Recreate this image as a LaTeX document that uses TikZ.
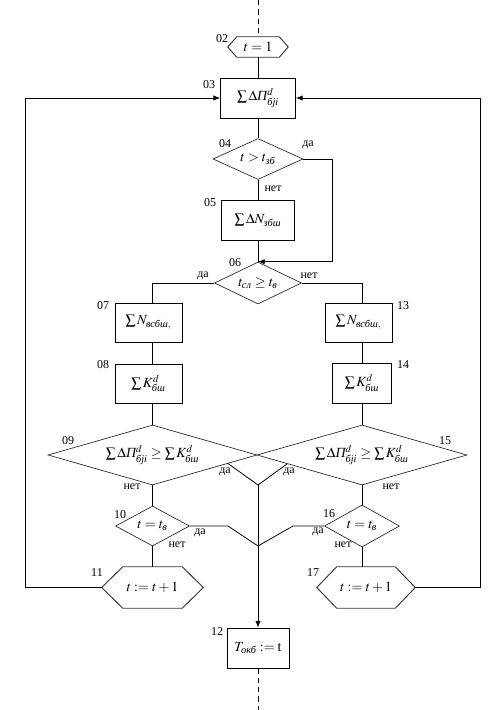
\documentclass[tikz,border=0pt]{standalone}
\usepackage{amsmath}
\usepackage{mathptmx}
\usepackage{fontspec}
\setmainfont{Liberation Serif}
\usetikzlibrary{arrows.meta,positioning,calc,shapes.geometric}
\tikzset{
  >={Latex[length=5pt,width=4pt]},
  every node/.style={font=\fontsize{10.5}{12}\selectfont},
  line/.style={draw=black,line width=0.6pt},
  arrow/.style={line,->},
  flow/.style={line,dash pattern=on 4pt off 3pt},
  blk/.style={draw=black,line width=0.6pt,rectangle,inner sep=0pt,align=center},
  cond/.style={draw=black!85,line width=0.5pt,diamond,inner sep=0pt,aspect=2},
  wide/.style={cond,aspect=3.5},
  hexn/.style={inner sep=0pt,align=center},
  hexline/.style={draw=black!80,line width=0.7pt},
  num/.style={font=\small,inner sep=0pt},
  ans/.style={font=\small,inner sep=0pt},
}
\newcommand{\hexframe}[2]{\draw[hexline] (#1.west) -- ([xshift=#2]#1.north west) -- ([xshift=-#2]#1.north east) -- (#1.east) -- ([xshift=-#2]#1.south east) -- ([xshift=#2]#1.south west) -- cycle;}
\newcommand{\dPi}{\sum\Delta\textit{П}^{d}_{\textit{бji}}}
\newcommand{\sK}{\sum K^{d}_{\textit{бш}}}

\begin{document}
\begin{tikzpicture}[x=0.75pt,y=-0.75pt]
  \useasboundingbox (0,0) rectangle (497,710);
  \node[hexn,minimum width=45pt,minimum height=15pt] (h02) at (258,47) {$t=1$};
  \hexframe{h02}{6.75pt}
  \node[blk,minimum width=56.25pt,minimum height=30pt] (b03) at (258,98) {$\dPi$};
  \node[cond,minimum width=67.5pt,minimum height=30.75pt] (d04) at (258,159) {$t>t_{\textit{зб}}$};
  \node[blk,minimum width=54.75pt,minimum height=30pt] (b05) at (258,220) {$\sum\Delta N_{\textit{збш}}$};
  \node[cond,minimum width=65.25pt,minimum height=31.5pt] (d06) at (258,283) {$t_{\textit{сл}}\geq t_{\textit{в}}$};
  \node[blk,minimum width=50.25pt,minimum height=29.25pt] (b07) at (148.5,322.5) {$\sum N_{\textit{всбш},}$};
  \node[blk,minimum width=50.25pt,minimum height=29.25pt] (b08) at (148.5,383.5) {$\sK$};
  \node[blk,minimum width=50.25pt,minimum height=29.25pt] (b13) at (358.5,322.5) {$\sum N_{\textit{всбш},}$};
  \node[blk,minimum width=44.25pt,minimum height=30pt] (b14) at (362,383) {$\sK$};
  \node[wide,minimum width=156.75pt,minimum height=45pt] (d09) at (152.5,455) {$\dPi\geq\sK$};
  \node[wide,minimum width=157.5pt,minimum height=45pt] (d15) at (362,455) {$\dPi\geq\sK$};
  \node[cond,minimum width=55.5pt,minimum height=30pt] (d10) at (152.5,526) {$t=t_{\textit{в}}$};
  \node[cond,minimum width=56.25pt,minimum height=31.5pt] (d16) at (362,526) {$t=t_{\textit{в}}$};
  \node[hexn,minimum width=75.75pt,minimum height=30.75pt] (h11) at (152.5,587.5) {$t:=t+1$};
  \hexframe{h11}{15.75pt}
  \node[hexn,minimum width=73.5pt,minimum height=30.75pt] (h17) at (366,587.5) {$t:=t+1$};
  \hexframe{h17}{15pt}
  \node[blk,minimum width=46.5pt,minimum height=30pt] (b12) at (258,648) {$T_{\textit{окб}}:=\mathrm{t}$};

  \node[num] (n02) at (222,39) {02};
  \node[num] (n03) at (209,85) {03};
  \node[num] (n04) at (225,144) {04};
  \node[num] (n05) at (210,203) {05};
  \node[num] (n06) at (235,263) {06};
  \node[num] (n07) at (103,306) {07};
  \node[num] (n08) at (103,365) {08};
  \node[num] (n09) at (68,441) {09};
  \node[num] (n10) at (120,515) {10};
  \node[num] (n11) at (97,573) {11};
  \node[num] (n12) at (217,632) {12};
  \node[num] (n13) at (403,306) {13};
  \node[num] (n14) at (403,365) {14};
  \node[num] (n15) at (445,441) {15};
  \node[num] (n16) at (329,514) {16};
  \node[num] (n17) at (313,573) {17};

  \node[ans] (y04) at (308,145) {да};
  \node[ans] (no04) at (273,189) {нет};
  \node[ans] (y06) at (203,276) {да};
  \node[ans] (no06) at (309,276) {нет};
  \node[ans] (y09) at (225,472) {да};
  \node[ans] (no09) at (132,487) {нет};
  \node[ans] (y15) at (289,472) {да};
  \node[ans] (no15) at (391,487) {нет};
  \node[ans] (y10) at (200,533) {да};
  \node[ans] (no10) at (177,545) {нет};
  \node[ans] (y16) at (318,532) {да};
  \node[ans] (no16) at (343,545) {нет};

  \coordinate (top) at (258,0);
  \coordinate (bot) at (258,710);
  \coordinate (yes04) at (332,159);
  \coordinate (loopL) at (25,587.5);
  \coordinate (loopR) at (480,587.5);
  \coordinate (m1) at (258,485);
  \coordinate (m2) at (258,546);
  \coordinate (k10) at (228,526);
  \coordinate (k16) at (293,526);

  \draw[flow] (top) -- (h02.north);
  \draw[line] (h02.south) -- (b03.north);
  \draw[line] (b03.south) -- (d04.north);
  \draw[line] (d04.south) -- (b05.north);
  \draw[line] (b05.south) -- (d06.north);
  \draw[arrow] (d04.east) -- (yes04) |- (d06.north);
  \draw[line] (d06.west) -| (b07.north -| d09.north);
  \draw[line] (b07.south -| d09.north) -- (b08.north -| d09.north);
  \draw[line] (b08.south -| d09.north) -- (d09.north);
  \draw[line] (d06.east) -| (b13.north -| d15.north);
  \draw[line] (b13.south -| d15.north) -- (b14.north);
  \draw[line] (b14.south) -- (d15.north);
  \draw[line] (d09.south) -- (d10.north);
  \draw[line] (d10.south) -- (h11.north);
  \draw[line] (d15.south) -- (d16.north);
  \draw[line] (d16.south) -- (d16.south |- h17.north);
  \draw[line] ($(d09.east)!0.28!(d09.south)$) -- (m1);
  \draw[line] ($(d15.west)!0.29!(d15.south)$) -- (m1);
  \draw[line] (d10.east) -- (k10) -- (m2);
  \draw[line] (d16.west) -- (k16) -- (m2);
  \draw[arrow] (m1) -- (b12.north);
  \draw[arrow] (h11.west) -- (loopL) |- (b03.west);
  \draw[arrow] (h17.east) -- (loopR) |- (b03.east);
  \draw[flow] (b12.south) -- (bot);
\end{tikzpicture}
\end{document}
